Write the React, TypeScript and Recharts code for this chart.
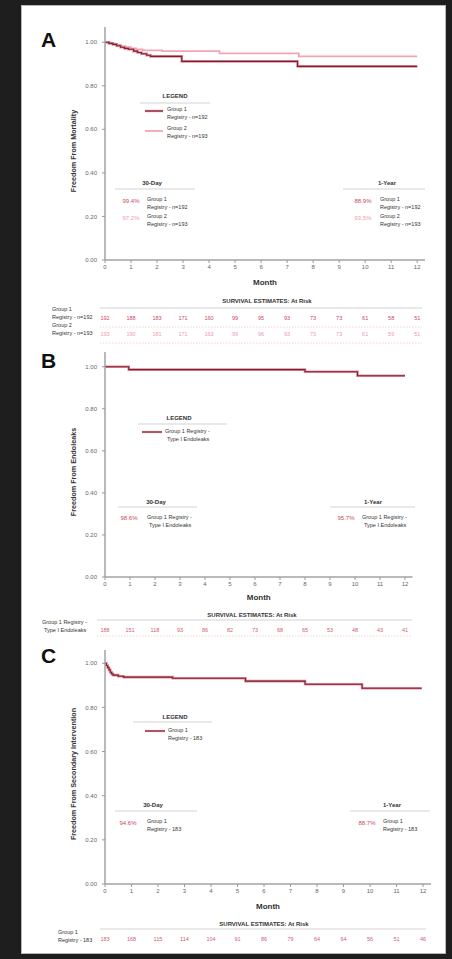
import React from 'react';
import { LineChart, Line, XAxis, YAxis, ScatterChart, Scatter } from 'recharts';

const FONT = '"Liberation Sans", Arial, Helvetica, sans-serif';

const monthTicks = [0, 1, 2, 3, 4, 5, 6, 7, 8, 9, 10, 11, 12];
const survivalTicks = [0, 0.2, 0.4, 0.6, 0.8, 1.0];

// Panel A: Freedom From Mortality
const mortalityTimesGroup1 = [0, 0.15, 0.3, 0.45, 0.6, 0.75, 0.9, 1.1, 1.25, 1.4, 1.6, 1.75, 2.95, 7.4, 12.0];
const mortalityGroup1 = [1.0, 0.995, 0.99, 0.984, 0.977, 0.972, 0.968, 0.959, 0.953, 0.947, 0.94, 0.935, 0.912, 0.889, 0.889];
const mortalityTimesGroup2 = [0, 0.2, 0.4, 0.6, 0.8, 1.0, 1.2, 1.45, 2.2, 4.4, 7.45, 12.0];
const mortalityGroup2 = [1.0, 0.994, 0.988, 0.982, 0.977, 0.972, 0.967, 0.963, 0.959, 0.949, 0.935, 0.935];
const atRiskMortalityGroup1 = [192, 188, 183, 171, 160, 99, 95, 93, 73, 73, 61, 58, 51];
const atRiskMortalityGroup2 = [193, 190, 181, 171, 163, 99, 96, 93, 73, 73, 61, 59, 51];

// Panel B: Freedom From Endoleaks
const endoleakTimes = [0, 0.95, 8.0, 10.1, 12.0];
const endoleakFree = [1.0, 0.986, 0.976, 0.957, 0.957];
const atRiskEndoleak = [188, 151, 118, 93, 86, 82, 73, 68, 65, 53, 48, 43, 41];

// Panel C: Freedom From Secondary Intervention
const interventionTimes = [0, 0.05, 0.1, 0.15, 0.2, 0.25, 0.3, 0.5, 0.7, 2.55, 5.3, 7.55, 9.7, 11.95];
const interventionFree = [1.0, 0.99, 0.98, 0.97, 0.959, 0.952, 0.946, 0.941, 0.937, 0.932, 0.919, 0.905, 0.887, 0.887];
const atRiskIntervention = [183, 168, 115, 114, 104, 91, 86, 79, 64, 64, 56, 51, 46];

const DARK = '#7a2230';
const HALO = '#e58c9a';
const PINK = '#f2a6b2';
const RED_TXT = '#c9495c';
const PINK_TXT = '#ef9aa8';
const INK = '#333333';

type Curve = { times: number[]; values: number[]; kind: 'dark' | 'pink' };

function toRows(times: number[], values: number[]) {
  return times.map((t, i) => ({ t, s: values[i] }));
}

function KMChart(props: {
  top: number; plotTop: number; plotBottom: number; plotRight: number; yMax: number;
  axisH: number; labelOffset: number; curves: Curve[];
}) {
  const { top, plotTop, plotBottom, plotRight, yMax, axisH, labelOffset, curves } = props;
  const height = plotBottom - top + axisH;
  const lines: React.ReactNode[] = [];
  curves.forEach((c, i) => {
    const d = toRows(c.times, c.values);
    if (c.kind === 'dark') {
      lines.push(<Line key={`h${i}`} data={d} dataKey="s" type="stepAfter" stroke={HALO} strokeWidth={2.6} dot={false} isAnimationActive={false} />);
      lines.push(<Line key={`d${i}`} data={d} dataKey="s" type="stepAfter" stroke={DARK} strokeWidth={1.1} dot={false} isAnimationActive={false} />);
    } else {
      lines.push(<Line key={`p${i}`} data={d} dataKey="s" type="stepAfter" stroke={PINK} strokeWidth={1.8} dot={false} isAnimationActive={false} />);
    }
  });
  return (
    <div style={{ position: 'absolute', left: 0, top, width: 452, height }}>
      <LineChart width={452} height={height} margin={{ top: plotTop - top, right: 452 - plotRight, bottom: 0, left: 65 }}>
        <XAxis
          type="number" dataKey="t" domain={[0, 12.3]} ticks={monthTicks} interval={0} allowDataOverflow
          height={axisH} tickSize={3} tickMargin={2}
          axisLine={{ stroke: '#a3a3a3', strokeWidth: 1.5 }} tickLine={{ stroke: '#999' }}
          tick={{ fontSize: 6, fill: '#666', fontFamily: FONT }}
          label={{ value: 'Month', position: 'insideBottom', offset: labelOffset, fontSize: 8, fontWeight: 'bold', fill: INK, fontFamily: FONT }}
        />
        <YAxis
          type="number" domain={[0, yMax]} ticks={survivalTicks} interval={0} allowDataOverflow
          width={40} tickSize={3} tickMargin={5}
          tickFormatter={(v: number) => v.toFixed(2)}
          axisLine={{ stroke: '#a3a3a3', strokeWidth: 1.5 }} tickLine={{ stroke: '#999' }}
          tick={{ fontSize: 6, fill: '#666', fontFamily: FONT }}
        />
        {lines}
      </LineChart>
    </div>
  );
}

function RiskRows(props: { top: number; rowH: number; plotRight: number; rows: { counts: number[]; color: string }[] }) {
  const { top, rowH, plotRight, rows } = props;
  const height = rowH * rows.length;
  return (
    <div style={{ position: 'absolute', left: 0, top, width: 452, height }}>
      <ScatterChart width={452} height={height} margin={{ top: 0, right: 452 - plotRight, bottom: 0, left: 105 }}>
        <XAxis type="number" dataKey="x" domain={[0, 12.3]} hide />
        <YAxis type="number" dataKey="y" domain={[-0.5, rows.length - 0.5]} reversed hide />
        {rows.map((r, i) => (
          <Scatter
            key={i}
            data={r.counts.map((c, m) => ({ x: monthTicks[m], y: i, v: c }))}
            isAnimationActive={false}
            shape={(p: any) => (
              <text x={p.cx} y={p.cy} dy={2} textAnchor="middle" fontSize={5.5} fill={r.color} fontFamily={FONT}>
                {p.payload.v}
              </text>
            )}
          />
        ))}
      </ScatterChart>
    </div>
  );
}

function T(p: { x: number; y: number; s?: number; c?: string; b?: boolean; a?: 'start' | 'middle' | 'end'; children: React.ReactNode }) {
  return (
    <text x={p.x} y={p.y} fontSize={p.s ?? 5.5} fill={p.c ?? INK} fontWeight={p.b ? 'bold' : 'normal'} textAnchor={p.a ?? 'start'} fontFamily={FONT}>
      {p.children}
    </text>
  );
}

function HL(p: { x1: number; x2: number; y: number; c?: string; dash?: string }) {
  return <line x1={p.x1} x2={p.x2} y1={p.y} y2={p.y} stroke={p.c ?? '#c8c8c8'} strokeWidth={0.8} strokeDasharray={p.dash} />;
}

function YTitle(p: { x: number; y: number; children: React.ReactNode }) {
  return (
    <text transform={`translate(${p.x},${p.y}) rotate(-90)`} textAnchor="middle" fontSize={7.2} fontWeight="bold" fill={INK} fontFamily={FONT}>
      {p.children}
    </text>
  );
}

function Overlay() {
  return (
    <svg width={452} height={959} style={{ position: 'absolute', left: 0, top: 0, pointerEvents: 'none' }}>
      {/* Panel A */}
      <T x={41} y={47} s={21} b c="#111">A</T>
      <YTitle x={75.5} y={151}>Freedom From Mortality</YTitle>
      <T x={175} y={98} s={6} b a="middle">LEGEND</T>
      <HL x1={140} x2={210} y={103} />
      <line x1={145} x2={163} y1={111} y2={111} stroke={HALO} strokeWidth={2.4} />
      <line x1={145} x2={163} y1={111} y2={111} stroke={DARK} strokeWidth={1.1} />
      <T x={167} y={111}>Group 1</T>
      <T x={167} y={118.5}>Registry - n=192</T>
      <line x1={145} x2={163} y1={131} y2={131} stroke={PINK} strokeWidth={1.8} />
      <T x={167} y={130}>Group 2</T>
      <T x={167} y={137.5}>Registry - n=193</T>

      <T x={152} y={185} s={6} b a="middle">30-Day</T>
      <HL x1={115} x2={195} y={189} />
      <T x={131} y={203} s={6} c={RED_TXT} a="middle">99.4%</T>
      <T x={147} y={201}>Group 1</T>
      <T x={147} y={208.5}>Registry - n=192</T>
      <T x={131} y={220} s={6} c={PINK_TXT} a="middle">97.2%</T>
      <T x={147} y={218}>Group 2</T>
      <T x={147} y={225.5}>Registry - n=193</T>

      <T x={387} y={185} s={6} b a="middle">1-Year</T>
      <HL x1={343} x2={425} y={189} />
      <T x={363} y={203} s={6} c={RED_TXT} a="middle">88.9%</T>
      <T x={380} y={201}>Group 1</T>
      <T x={380} y={208.5}>Registry - n=192</T>
      <T x={363} y={220} s={6} c={PINK_TXT} a="middle">93.5%</T>
      <T x={380} y={218}>Group 2</T>
      <T x={380} y={225.5}>Registry - n=193</T>

      <T x={267} y={303} s={6} b a="middle">SURVIVAL ESTIMATES: At Risk</T>
      <HL x1={100} x2={422} y={308} />
      <T x={52} y={311}>Group 1</T>
      <T x={52} y={319}>Registry - n=192</T>
      <HL x1={100} x2={422} y={327} c="#f3c4cc" dash="1.5 1.5" />
      <T x={52} y={327}>Group 2</T>
      <T x={52} y={335}>Registry - n=193</T>
      <HL x1={100} x2={422} y={343} c="#f3c4cc" dash="1.5 1.5" />

      {/* Panel B */}
      <T x={41} y={368} s={21} b c="#111">B</T>
      <YTitle x={75.5} y={472}>Freedom From Endoleaks</YTitle>
      <T x={179} y={420} s={6} b a="middle">LEGEND</T>
      <HL x1={138} x2={227} y={424} />
      <line x1={142} x2={162} y1={432} y2={432} stroke={HALO} strokeWidth={2.2} />
      <line x1={142} x2={162} y1={432} y2={432} stroke={DARK} strokeWidth={1} />
      <T x={165} y={433}>Group 1 Registry -</T>
      <T x={167} y={440.5}>Type I Endoleaks</T>

      <T x={156} y={504} s={6} b a="middle">30-Day</T>
      <HL x1={118} x2={197} y={507} />
      <T x={129} y={520} s={6} c={RED_TXT} a="middle">98.6%</T>
      <T x={147} y={519}>Group 1 Registry -</T>
      <T x={149} y={526.5}>Type I Endoleaks</T>

      <T x={373} y={504} s={6} b a="middle">1-Year</T>
      <HL x1={330} x2={415} y={507} />
      <T x={346} y={520} s={6} c={RED_TXT} a="middle">95.7%</T>
      <T x={362} y={519}>Group 1 Registry -</T>
      <T x={364} y={526.5}>Type I Endoleaks</T>

      <T x={252} y={617} s={6} b a="middle">SURVIVAL ESTIMATES: At Risk</T>
      <HL x1={97} x2={412} y={620} />
      <T x={42} y={624}>Group 1 Registry -</T>
      <T x={44} y={631.5}>Type I Endoleaks</T>
      <HL x1={97} x2={412} y={636} c="#f3c4cc" dash="1.5 1.5" />

      {/* Panel C */}
      <T x={41} y={663} s={21} b c="#111">C</T>
      <YTitle x={75.5} y={774}>Freedom From Secondary Intervention</YTitle>
      <T x={175} y={719} s={6} b a="middle">LEGEND</T>
      <HL x1={133} x2={212} y={722} />
      <line x1={145} x2={165} y1={731} y2={731} stroke={HALO} strokeWidth={2.2} />
      <line x1={145} x2={165} y1={731} y2={731} stroke={DARK} strokeWidth={1} />
      <T x={168} y={732}>Group 1</T>
      <T x={168} y={739.5}>Registry - 183</T>

      <T x={153} y={807} s={6} b a="middle">30-Day</T>
      <HL x1={115} x2={197} y={811} />
      <T x={128} y={825} s={6} c={RED_TXT} a="middle">94.6%</T>
      <T x={147} y={823}>Group 1</T>
      <T x={147} y={830.5}>Registry - 183</T>

      <T x={392} y={807} s={6} b a="middle">1-Year</T>
      <HL x1={350} x2={430} y={811} />
      <T x={367} y={825} s={6} c={RED_TXT} a="middle">88.7%</T>
      <T x={383} y={823}>Group 1</T>
      <T x={383} y={830.5}>Registry - 183</T>

      <T x={264} y={926} s={6} b a="middle">SURVIVAL ESTIMATES: At Risk</T>
      <HL x1={100} x2={426} y={929} />
      <T x={58} y={934}>Group 1</T>
      <T x={58} y={941.5}>Registry - 183</T>
    </svg>
  );
}

export default function App() {
  return (
    <div style={{ position: 'fixed', left: 0, top: 0, width: 452, height: 959, background: '#1e1e1e', fontFamily: FONT, overflow: 'hidden' }}>
      <div style={{ position: 'absolute', left: 21, top: 5, width: 425, height: 949, background: '#ffffff', border: '1px solid #b8b8b8', boxSizing: 'border-box' }} />
      <KMChart
        top={20} plotTop={27} plotBottom={260} plotRight={425} yMax={1.07} axisH={30} labelOffset={5}
        curves={[
          { times: mortalityTimesGroup2, values: mortalityGroup2, kind: 'pink' },
          { times: mortalityTimesGroup1, values: mortalityGroup1, kind: 'dark' },
        ]}
      />
      <RiskRows top={310} rowH={16} plotRight={425} rows={[
        { counts: atRiskMortalityGroup1, color: RED_TXT },
        { counts: atRiskMortalityGroup2, color: PINK_TXT },
      ]} />
      <KMChart
        top={345} plotTop={352} plotBottom={577} plotRight={412.5} yMax={1.07} axisH={25} labelOffset={2}
        curves={[{ times: endoleakTimes, values: endoleakFree, kind: 'dark' }]}
      />
      <RiskRows top={622} rowH={16} plotRight={412.5} rows={[{ counts: atRiskEndoleak, color: '#d0606f' }]} />
      <KMChart
        top={643} plotTop={650} plotBottom={884} plotRight={431} yMax={1.06} axisH={28} labelOffset={3}
        curves={[{ times: interventionTimes, values: interventionFree, kind: 'dark' }]}
      />
      <RiskRows top={931} rowH={16} plotRight={431} rows={[{ counts: atRiskIntervention, color: '#d0606f' }]} />
      <Overlay />
    </div>
  );
}
